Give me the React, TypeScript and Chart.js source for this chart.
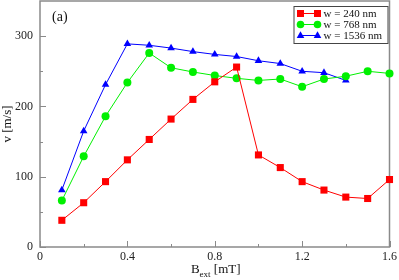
import React, { useEffect, useRef } from "react";
import { Chart, registerables } from "chart.js";
Chart.register(...registerables);

const bField = [0.1, 0.2, 0.3, 0.4, 0.5, 0.6, 0.7, 0.8, 0.9, 1.0, 1.1, 1.2, 1.3, 1.4, 1.5, 1.6];
const v240 = [38, 63, 93, 124, 153, 182, 210, 235, 256, 131, 113, 93, 81, 71, 69, 96];
const v768 = [66, 129, 186, 234, 276, 255, 249, 244, 240, 237, 239, 228, 239, 243, 250, 247];
const v1536 = [81, 165, 231, 289, 287, 283, 278, 274, 271, 265, 261, 250, 248, 237];
const seriesLabels = ["w = 240 nm", "w = 768 nm", "w = 1536 nm"];
const seriesColors = ["#ff0000", "#00f000", "#0000ff"];
const seriesMarkers = ["rect", "circle", "triangle"];
const xTicks = [0, 0.4, 0.8, 1.2, 1.6];
const xTickLabels = ["0", "0.4", "0.8", "1.2", "1.6"];
const xMinorTicks = [0.2, 0.6, 1.0, 1.4];
const yTicks = [0, 100, 200, 300];
const yTickLabels = ["0", "100", "200", "300"];
const yMinorTicks = [50, 150, 250];
const panelLabel = "(a)";
const yTitle = "v [m/s]";
const xTitleMain = "B";
const xTitleSub = "ext";
const xTitleUnit = " [mT]";

const FONT = "'Liberation Serif', 'DejaVu Serif', serif";
const AXIS = "#8a8a8a";

function marker(ctx: CanvasRenderingContext2D, kind: string, x: number, y: number, color: string) {
  ctx.save();
  ctx.fillStyle = color;
  ctx.beginPath();
  if (kind === "rect") {
    ctx.rect(x - 3.5, y - 3.5, 7, 7);
  } else if (kind === "circle") {
    ctx.arc(x, y, 3.8, 0, Math.PI * 2);
  } else {
    ctx.moveTo(x, y - 4.2);
    ctx.lineTo(x + 3.8, y + 2.4);
    ctx.lineTo(x - 3.8, y + 2.4);
    ctx.closePath();
  }
  ctx.fill();
  ctx.restore();
}

const framePlugin = {
  id: "frame",
  beforeDatasetsDraw(chart: any) {
    const { ctx, chartArea, scales } = chart;
    const { left, right, top, bottom } = chartArea;
    const x = scales.x;
    const y = scales.y;
    ctx.save();
    ctx.strokeStyle = AXIS;
    ctx.lineWidth = 1.5;
    ctx.strokeRect(left, top, right - left, bottom - top);
    ctx.lineWidth = 1;
    ctx.beginPath();
    xTicks.forEach((v) => {
      const p = Math.round(x.getPixelForValue(v)) + 0.5;
      ctx.moveTo(p, bottom);
      ctx.lineTo(p, bottom - 6);
    });
    xMinorTicks.forEach((v) => {
      const p = Math.round(x.getPixelForValue(v)) + 0.5;
      ctx.moveTo(p, bottom);
      ctx.lineTo(p, bottom - 3);
    });
    yTicks.forEach((v) => {
      const p = Math.round(y.getPixelForValue(v)) + 0.5;
      ctx.moveTo(left, p);
      ctx.lineTo(left + 6, p);
    });
    yMinorTicks.forEach((v) => {
      const p = Math.round(y.getPixelForValue(v)) + 0.5;
      ctx.moveTo(left, p);
      ctx.lineTo(left + 3, p);
    });
    ctx.stroke();

    // tick labels
    ctx.fillStyle = "#222";
    ctx.font = `12px ${FONT}`;
    ctx.textAlign = "center";
    ctx.textBaseline = "top";
    xTicks.forEach((v, i) => {
      ctx.fillText(xTickLabels[i], x.getPixelForValue(v), bottom + 4);
    });
    ctx.textAlign = "right";
    ctx.textBaseline = "middle";
    yTicks.forEach((v, i) => {
      ctx.fillText(yTickLabels[i], left - 7, y.getPixelForValue(v));
    });
    ctx.restore();
  },
  afterDraw(chart: any) {
    const { ctx, chartArea } = chart;
    const { left, right, top, bottom } = chartArea;
    ctx.save();
    // panel label
    ctx.fillStyle = "#111";
    ctx.font = `14px ${FONT}`;
    ctx.textBaseline = "alphabetic";
    ctx.textAlign = "left";
    ctx.fillText(panelLabel, left + 12, top + 20);

    // y title
    ctx.save();
    ctx.translate(8, (top + bottom) / 2);
    ctx.rotate(-Math.PI / 2);
    ctx.font = `13px ${FONT}`;
    ctx.textAlign = "center";
    ctx.textBaseline = "middle";
    ctx.fillText(yTitle, 0, 0);
    ctx.restore();

    // x title with subscript
    const mainFont = `13px ${FONT}`;
    const subFont = `9px ${FONT}`;
    ctx.font = mainFont;
    const wMain = ctx.measureText(xTitleMain).width;
    const wUnit = ctx.measureText(xTitleUnit).width;
    ctx.font = subFont;
    const wSub = ctx.measureText(xTitleSub).width;
    const total = wMain + wSub + wUnit;
    let cx = (left + right) / 2 - total / 2 + 1;
    const base = bottom + 26;
    ctx.textAlign = "left";
    ctx.textBaseline = "alphabetic";
    ctx.font = mainFont;
    ctx.fillText(xTitleMain, cx, base);
    cx += wMain;
    ctx.font = subFont;
    ctx.fillText(xTitleSub, cx, base + 4);
    cx += wSub;
    ctx.font = mainFont;
    ctx.fillText(xTitleUnit, cx, base);

    // legend
    const bx = right - 96;
    const by = top + 5;
    const bw = 94;
    const bh = 37;
    ctx.fillStyle = "#ffffff";
    ctx.fillRect(bx, by, bw, bh);
    ctx.strokeStyle = "#444";
    ctx.lineWidth = 1;
    ctx.strokeRect(bx + 0.5, by + 0.5, bw, bh);
    seriesLabels.forEach((lab, i) => {
      const ry = by + 7.5 + i * 11;
      const x1 = bx + 7;
      const x2 = bx + 24;
      ctx.strokeStyle = seriesColors[i];
      ctx.lineWidth = 1;
      ctx.beginPath();
      ctx.moveTo(x1, ry);
      ctx.lineTo(x2, ry);
      ctx.stroke();
      marker(ctx, seriesMarkers[i], x1, ry, seriesColors[i]);
      marker(ctx, seriesMarkers[i], x2, ry, seriesColors[i]);
      ctx.fillStyle = "#111";
      ctx.font = `11px ${FONT}`;
      ctx.textBaseline = "middle";
      ctx.fillText(lab, bx + 30, ry + 0.5);
    });
    ctx.restore();
  },
};

export default function App() {
  const ref = useRef<HTMLCanvasElement | null>(null);
  useEffect(() => {
    document.body.style.margin = "0";
    const series = [v240, v768, v1536];
    const chart = new Chart(ref.current as HTMLCanvasElement, {
      type: "line",
      data: {
        datasets: series.map((vals, i) => ({
          label: seriesLabels[i],
          data: vals.map((v, j) => ({ x: bField[j], y: v })),
          borderColor: seriesColors[i],
          backgroundColor: seriesColors[i],
          borderWidth: 1,
          pointStyle: seriesMarkers[i] as any,
          pointRadius: i === 0 ? 5 : i === 1 ? 4 : 4.4,
          pointBorderWidth: 0,
          pointHoverRadius: 5,
          clip: false as any,
          tension: 0,
        })),
      },
      options: {
        animation: false,
        responsive: true,
        maintainAspectRatio: false,
        layout: { autoPadding: false, padding: { top: 1, right: 9.5, left: 0, bottom: 0 } },
        plugins: { legend: { display: false }, tooltip: { enabled: false } },
        scales: {
          x: {
            type: "linear",
            min: 0,
            max: 1.6,
            grid: { display: false },
            border: { display: false },
            ticks: { display: false },
            afterFit: (s: any) => {
              s.height = 33;
            },
          },
          y: {
            type: "linear",
            min: 0,
            max: 350,
            grid: { display: false },
            border: { display: false },
            ticks: { display: false },
            afterFit: (s: any) => {
              s.width = 40;
            },
          },
        },
      },
      plugins: [framePlugin],
    });
    return () => chart.destroy();
  }, []);
  return (
    <div style={{ position: "fixed", left: 0, top: 0, width: 399, height: 280 }}>
      <canvas ref={ref} />
    </div>
  );
}
